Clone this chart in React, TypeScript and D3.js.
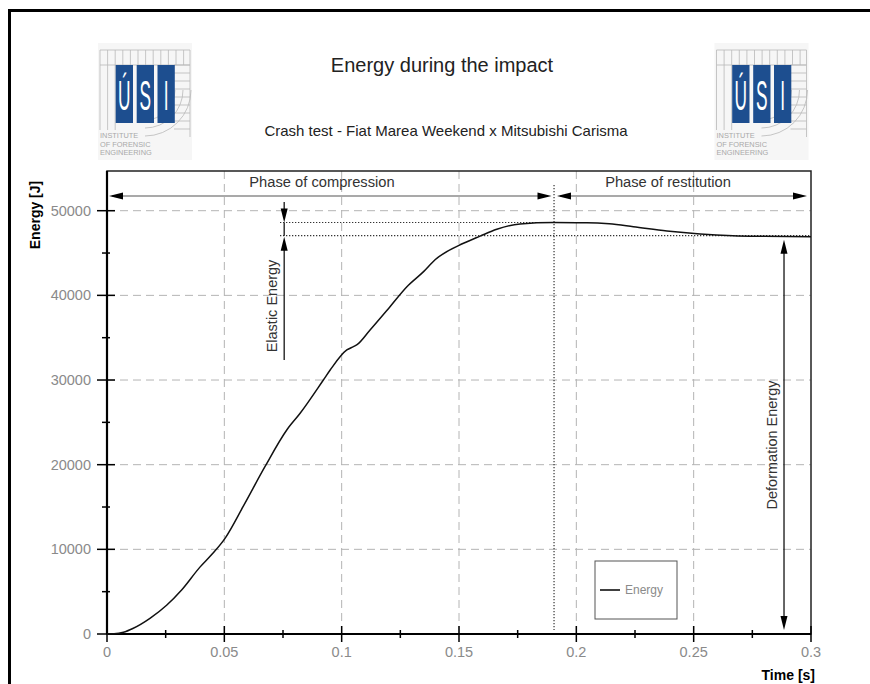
import React from "react";
import * as d3 from "d3";

// Energy curve (time in s, energy in J)
const timeS = [
  0, 0.003, 0.007, 0.011, 0.0183, 0.0254, 0.0318, 0.0396, 0.045, 0.0503,
  0.0581, 0.0673, 0.0766, 0.0823, 0.0922, 0.0951, 0.1022, 0.105, 0.1064, 0.1121,
  0.1206, 0.1278, 0.1349, 0.1398, 0.1519, 0.159, 0.1661, 0.176, 0.1903, 0.2045,
  0.214, 0.2243, 0.2386, 0.2528, 0.2668, 0.28, 0.3,
];
const energyJ = [
  0, 20, 200, 650, 1850, 3400, 5200, 7900, 9500, 11300,
  15100, 19760, 24100, 26070, 30000, 31180, 33550, 33940, 34140, 35910,
  38660, 41020, 42800, 44200, 46150, 47000, 47800, 48430, 48600, 48580,
  48450, 48110, 47600, 47250, 47050, 46980, 46930,
];

const xMajorTicks = [0, 0.05, 0.1, 0.15, 0.2, 0.25, 0.3];
const xMinorTicks = [0.025, 0.075, 0.125, 0.175, 0.225, 0.275];
const yMajorTicks = [0, 10000, 20000, 30000, 40000, 50000];
const yMinorTicks = [5000, 15000, 25000, 35000, 45000];

// Annotation levels
const peakTime = [0.1905];
const peakEnergy = [48600];
const restEnergy = [47050];
const elasticArrowTime = [0.0755];
const deformationArrowTime = [0.2885];

const FONT = "'Liberation Sans', Arial, Helvetica, sans-serif";

const x = d3.scaleLinear().domain([0, 0.3]).range([107, 811]);
const y = d3.scaleLinear().domain([0, 50000]).range([634, 210.7]);
const plotTop = 171;

function Arrow({ x1, y1, x2, y2 }: { x1: number; y1: number; x2: number; y2: number }) {
  // filled triangular head at (x2, y2)
  const ang = Math.atan2(y2 - y1, x2 - x1);
  const len = 14;
  const half = 3.5;
  const bx = x2 - len * Math.cos(ang);
  const by = y2 - len * Math.sin(ang);
  const px = -Math.sin(ang) * half;
  const py = Math.cos(ang) * half;
  return (
    <polygon
      points={`${x2},${y2} ${bx + px},${by + py} ${bx - px},${by - py}`}
      fill="#000"
    />
  );
}

function Logo({ ox, oy }: { ox: number; oy: number }) {
  const vLines = d3.range(0, 91, 7.6);
  const hLines = d3.range(20, 92, 8);
  const arcs = [30, 38, 46];
  const blocks = [
    { x: 15.7, ch: "Ú" },
    { x: 36.7, ch: "S" },
    { x: 57.5, ch: "I" },
  ];
  return (
    <g transform={`translate(${ox},${oy})`}>
      <rect x={-2} y={-2} width={94} height={117} fill="#f6f6f6" />
      <g stroke="#b9b9b9" strokeWidth={0.8} fill="none">
        <line x1={0} y1={5} x2={90} y2={5} />
        <line x1={0} y1={20} x2={90} y2={20} />
        {vLines.map((v) => (
          <line key={v} x1={v} y1={5} x2={v} y2={v < 16 ? 85 : 20} />
        ))}
        {hLines.map((h) => (
          <line key={h} x1={74} y1={h} x2={90} y2={h} />
        ))}
        <line x1={90} y1={5} x2={90} y2={92} />
        {arcs.map((r) => (
          <path
            key={r}
            d={`M ${45 + r} 45 A ${r} ${r} 0 0 1 45 ${45 + r}`}
          />
        ))}
      </g>
      {blocks.map((b) => (
        <g key={b.ch}>
          <rect x={b.x} y={20} width={17.3} height={58} fill="#1d4e8f" />
          <text
            transform={`translate(${b.x + 8.65},${65}) scale(0.72,1.75)`}
            textAnchor="middle"
            fontFamily={FONT}
            fontSize={24}
            fill="#fff"
          >
            {b.ch}
          </text>
        </g>
      ))}
      <g fontFamily={FONT} fontSize={7.4} fill="#a9a9a9">
        <text x={0} y={93}>INSTITUTE</text>
        <text x={0} y={101.5}>OF FORENSIC</text>
        <text x={0} y={110}>ENGINEERING</text>
      </g>
    </g>
  );
}

export default function App() {
  const line = d3
    .line<number>()
    .x((_, i) => x(timeS[i]))
    .y((d) => y(d))
    .curve(d3.curveMonotoneX);

  const xPeak = x(peakTime[0]);
  const yPeak = y(peakEnergy[0]);
  const yRest = y(restEnergy[0]);
  const xEl = x(elasticArrowTime[0]);
  const xDef = x(deformationArrowTime[0]);
  const phaseY = 196;

  return (
    <svg
      width={870}
      height={684}
      style={{ position: "absolute", left: 0, top: 0, background: "#fff" }}
    >
      {/* outer frame */}
      <rect x={9.5} y={10.5} width={880} height={700} fill="none" stroke="#000" strokeWidth={3} />

      <Logo ox={100} oy={45} />
      <Logo ox={716.5} oy={45} />

      <text x={442} y={72} textAnchor="middle" fontFamily={FONT} fontSize={20} fill="#222">
        Energy during the impact
      </text>
      <text x={446} y={136} textAnchor="middle" fontFamily={FONT} fontSize={15} fill="#222">
        Crash test - Fiat Marea Weekend x Mitsubishi Carisma
      </text>

      {/* grid */}
      <g stroke="#b4b4b4" strokeWidth={1} strokeDasharray="8,5">
        {xMajorTicks.slice(1, -1).map((t) => (
          <line key={t} x1={x(t)} x2={x(t)} y1={plotTop} y2={y(0)} />
        ))}
        {yMajorTicks.slice(1).map((v) => (
          <line key={v} x1={x(0)} x2={x(0.3)} y1={y(v)} y2={y(v)} />
        ))}
      </g>

      {/* plot box */}
      <rect
        x={x(0)}
        y={plotTop}
        width={x(0.3) - x(0)}
        height={y(0) - plotTop}
        fill="none"
        stroke="#222"
        strokeWidth={1.5}
      />
      <line x1={x(0)} x2={x(0)} y1={plotTop} y2={y(0)} stroke="#000" strokeWidth={2.2} />
      <line x1={x(0)} x2={x(0.3)} y1={y(0)} y2={y(0)} stroke="#000" strokeWidth={2.2} />

      {/* ticks */}
      <g stroke="#000" strokeWidth={1.5}>
        {yMajorTicks.map((v) => (
          <line key={v} x1={97} x2={115} y1={y(v)} y2={y(v)} />
        ))}
        {yMinorTicks.map((v) => (
          <line key={v} x1={102} x2={110} y1={y(v)} y2={y(v)} />
        ))}
        {xMajorTicks.map((t) => (
          <line key={t} x1={x(t)} x2={x(t)} y1={626} y2={642} />
        ))}
        {xMinorTicks.map((t) => (
          <line key={t} x1={x(t)} x2={x(t)} y1={630} y2={638} />
        ))}
      </g>
      <g fontFamily={FONT} fontSize={14.5} fill="#8a8a8a">
        {yMajorTicks.map((v) => (
          <text key={v} x={91} y={y(v) + 5} textAnchor="end">
            {v}
          </text>
        ))}
        {xMajorTicks.map((t) => (
          <text key={t} x={x(t)} y={657} textAnchor="middle">
            {d3.format("~g")(t)}
          </text>
        ))}
      </g>
      <text
        transform="translate(40,215) rotate(-90)"
        textAnchor="middle"
        fontFamily={FONT}
        fontSize={14}
        fontWeight="bold"
        fill="#000"
      >
        Energy [J]
      </text>
      <text x={815} y={680} textAnchor="end" fontFamily={FONT} fontSize={14} fontWeight="bold" fill="#000">
        Time [s]
      </text>

      {/* phase arrows */}
      <g stroke="#8c8c8c" strokeWidth={1.6}>
        <line x1={112} x2={548} y1={phaseY} y2={phaseY} />
        <line x1={560} x2={803} y1={phaseY} y2={phaseY} />
      </g>
      <Arrow x1={200} y1={phaseY} x2={109} y2={phaseY} />
      <Arrow x1={500} y1={phaseY} x2={551.5} y2={phaseY} />
      <Arrow x1={620} y1={phaseY} x2={557} y2={phaseY} />
      <Arrow x1={700} y1={phaseY} x2={807} y2={phaseY} />
      <g fontFamily={FONT} fontSize={14.7} fill="#333" textAnchor="middle">
        <text x={322} y={187}>Phase of compression</text>
        <text x={668} y={187}>Phase of restitution</text>
      </g>

      {/* peak marker and energy levels */}
      <line x1={xPeak} x2={xPeak} y1={185} y2={630} stroke="#333" strokeWidth={1.2} strokeDasharray="1.3,1.7" />
      <g stroke="#333" strokeWidth={1.1} strokeDasharray="1.3,1.7">
        <line x1={280} x2={xPeak} y1={yPeak} y2={yPeak} />
        <line x1={280} x2={x(0.3)} y1={yRest} y2={yRest} />
      </g>

      {/* energy curve */}
      <path d={line(energyJ) ?? ""} fill="none" stroke="#111" strokeWidth={1.5} />

      {/* elastic energy */}
      <g stroke="#000" strokeWidth={1.2}>
        <line x1={xEl} x2={xEl} y1={202} y2={yPeak - 6} />
        <line x1={xEl} x2={xEl} y1={yPeak} y2={yRest} />
        <line x1={xEl} x2={xEl} y1={yRest + 8} y2={360} />
      </g>
      <Arrow x1={xEl} y1={202} x2={xEl} y2={yPeak} />
      <Arrow x1={xEl} y1={300} x2={xEl} y2={yRest + 1} />
      <text
        transform={`translate(${xEl - 7},306) rotate(-90)`}
        textAnchor="middle"
        fontFamily={FONT}
        fontSize={14.5}
        fill="#333"
      >
        Elastic Energy
      </text>

      {/* deformation energy */}
      <line x1={xDef} x2={xDef} y1={yRest + 10} y2={622} stroke="#000" strokeWidth={1.2} />
      <Arrow x1={xDef} y1={400} x2={xDef} y2={yRest + 4} />
      <Arrow x1={xDef} y1={400} x2={xDef} y2={630} />
      <text
        transform={`translate(${xDef - 7},445) rotate(-90)`}
        textAnchor="middle"
        fontFamily={FONT}
        fontSize={14.5}
        fill="#333"
      >
        Deformation Energy
      </text>

      {/* legend */}
      <rect x={595} y={561} width={82} height={58} fill="#fff" stroke="#555" strokeWidth={1} />
      <line x1={600} x2={620} y1={590} y2={590} stroke="#000" strokeWidth={1.5} />
      <text x={625} y={594} fontFamily={FONT} fontSize={12} fill="#8a8a8a">
        Energy
      </text>
    </svg>
  );
}
